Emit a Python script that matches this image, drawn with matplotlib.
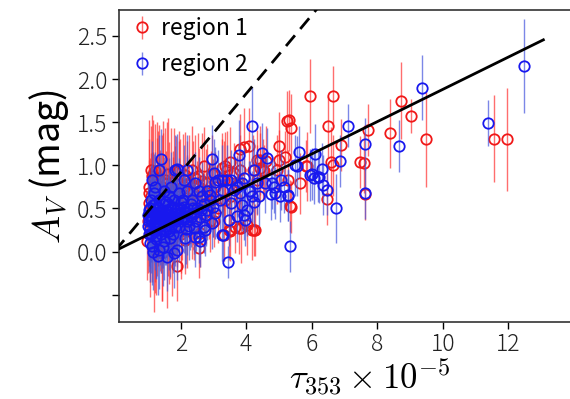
import matplotlib
matplotlib.use("Agg")
import matplotlib.pyplot as plt

plt.rcParams['font.family'] = ['Noto Sans CJK JP', 'DejaVu Sans']
plt.rcParams['mathtext.fontset'] = 'cm'

# region 1 (red): tau353 (x1e-5), Av (mag), error
r1_x = [5.96, 6.65, 5.32, 5.38, 6.51, 6.90, 7.71, 8.72, 9.03, 8.40, 9.49, 11.56, 11.97,
        7.48, 7.60, 6.59, 6.65, 5.85, 5.65, 5.19, 6.46, 7.63, 5.37, 4.99, 4.99, 4.07,
        3.94, 3.80, 3.49, 3.41, 4.41, 4.51, 4.94, 5.29, 5.83, 3.26, 3.82, 3.72, 4.33,
        5.24, 4.33, 4.43, 4.53, 3.36, 3.62, 3.77,
        1.08, 1.23, 1.53, 1.79, 1.94, 2.35, 2.70, 2.14, 2.20, 3.26, 3.31, 1.02, 1.08,
        1.02, 1.43, 1.63, 1.84, 2.55, 2.91, 3.06,
        0.98, 1.23, 1.43, 1.89, 2.55, 3.01, 1.63, 2.14, 3.49, 3.67, 3.84, 4.02, 4.23,
        5.34, 4.18, 4.28, 3.46, 3.77, 3.31,
        1.10, 1.30, 1.50, 1.70, 1.90, 2.05, 2.30, 2.50, 2.70, 2.85, 3.00, 1.20, 1.40,
        1.60, 1.80, 2.00, 2.20, 1.15, 1.35, 1.55, 1.75, 2.40, 2.60, 2.90, 3.15, 3.35,
        3.55, 1.00, 1.05, 1.25, 2.45, 2.80, 1.95, 1.30, 4.20, 4.60, 1.12, 1.38, 1.66,
        1.03, 1.14, 1.27, 1.33, 1.47, 1.58, 1.69, 1.76, 1.86, 1.98, 2.08, 2.26, 2.38,
        2.52, 2.64, 2.78, 2.96, 1.06, 1.18, 1.42, 1.57, 1.72, 1.88, 2.02, 2.18, 2.33,
        1.12, 1.28, 1.45, 1.62]
r1_y = [1.80, 1.80, 1.52, 1.43, 1.45, 1.24, 1.41, 1.75, 1.57, 1.37, 1.30, 1.31, 1.30,
        1.04, 1.03, 1.04, 1.00, 0.99, 0.79, 1.10, 0.61, 0.67, 0.52, 1.22, 1.06, 1.22,
        1.21, 1.19, 1.04, 0.95, 1.06, 0.95, 0.95, 0.83, 0.99, 0.85, 0.95, 0.77, 0.83,
        1.51, 1.06, 0.97, 0.93, 0.99, 0.91, 0.79,
        0.95, 0.93, 0.83, 0.93, 0.95, 0.95, 0.99, 0.89, 0.83, 0.97, 0.83, 0.75, 0.64,
        0.56, 0.75, 0.72, 0.72, 0.75, 0.72, 0.75,
        0.12, 0.02, -0.02, -0.17, 0.04, 0.35, 0.12, 0.14, 0.24, 0.29, 0.27, 0.31, 0.25,
        0.53, 0.25, 0.25, 0.25, 0.27, 0.19,
        0.45, 0.38, 0.50, 0.42, 0.55, 0.35, 0.50, 0.60, 0.45, 0.55, 0.62, 0.25, 0.30,
        0.22, 0.30, 0.20, 0.62, 0.60, 0.65, 0.62, 0.60, 0.30, 0.22, 0.35, 0.50, 0.60,
        0.65, 0.35, 0.20, 0.10, 0.85, 0.80, 0.78, 0.85, 0.95, 1.05, 0.40, 0.48, 0.33,
        0.68, 0.82, 0.52, 0.72, 0.66, 0.80, 0.68, 0.52, 0.64, 0.70, 0.76, 0.80, 0.68,
        0.88, 0.82, 0.64, 0.90, 0.28, 0.15, 0.18, 0.05, 0.14, 0.42, 0.28, 0.36, 0.42,
        0.88, 0.70, 0.62, 0.90]
r1_err = [0.43, 0.35, 0.35, 0.40, 0.35, 0.30, 0.30, 0.45, 0.20, 0.40, 0.55, 0.50, 0.60,
          0.30, 0.35, 0.40, 0.35, 0.40, 0.35, 0.30, 0.30, 0.30, 0.30, 0.40, 0.35, 0.45,
          0.45, 0.40, 0.40, 0.45, 0.40, 0.35, 0.40, 0.35, 0.30, 0.45, 0.40, 0.35, 0.40,
          0.35, 0.35, 0.40, 0.30, 0.40, 0.35, 0.35,
          0.50, 0.55, 0.60, 0.50, 0.45, 0.50, 0.45, 0.50, 0.45, 0.40, 0.45, 0.55, 0.50,
          0.50, 0.60, 0.55, 0.50, 0.45, 0.45, 0.40,
          0.45, 0.50, 0.55, 0.40, 0.35, 0.30, 0.50, 0.40, 0.35, 0.30, 0.40, 0.35, 0.30,
          0.30, 0.35, 0.30, 0.35, 0.30, 0.30,
          0.50, 0.55, 0.50, 0.50, 0.45, 0.45, 0.40, 0.45, 0.40, 0.40, 0.45, 0.60, 0.55,
          0.50, 0.50, 0.45, 0.50, 0.55, 0.50, 0.55, 0.50, 0.40, 0.40, 0.35, 0.40, 0.40,
          0.35, 0.60, 0.55, 0.60, 0.50, 0.45, 0.50, 0.55, 0.40, 0.40, 0.75, 0.70, 0.65,
          0.85, 0.70, 0.80, 0.75, 0.85, 0.70, 0.75, 0.65, 0.70, 0.60, 0.60, 0.55, 0.60,
          0.50, 0.55, 0.55, 0.45, 0.80, 0.85, 0.75, 0.70, 0.65, 0.60, 0.60, 0.55, 0.50,
          0.70, 0.80, 0.75, 0.65]

# region 2 (blue)
r2_x = [12.48, 11.37, 9.38, 8.65, 7.10, 7.63, 6.85, 6.09, 5.60, 5.50, 6.31, 6.02, 6.19,
        6.34, 7.63, 6.75, 5.34, 5.14, 5.29, 4.18, 4.48, 4.63, 3.77, 4.23, 5.55, 5.07,
        4.84, 4.76, 5.04, 5.29, 5.95, 6.06, 6.21, 6.46, 3.92, 3.41, 3.26, 4.33, 4.58,
        3.62, 3.82, 4.12, 4.38,
        1.40, 1.33, 1.89, 2.96, 3.01, 2.09, 3.06, 1.13, 1.18, 1.33, 1.63, 1.94, 2.35,
        2.65, 1.83, 2.18, 3.15,
        1.59, 1.79, 1.89, 2.14, 2.45, 2.60, 1.02, 1.13, 1.33, 3.26, 3.44, 2.40, 2.70,
        2.96, 3.06, 3.29, 3.46, 3.72, 3.92, 4.02, 3.87, 3.52, 3.52, 3.72, 3.87, 4.07,
        4.18, 4.23, 3.97, 4.79, 4.89, 2.55, 2.75,
        1.00, 1.00, 1.05, 1.10, 1.10, 1.15, 1.20, 1.20, 1.25, 1.25, 1.30, 1.30, 1.35,
        1.40, 1.40, 1.45, 1.45, 1.50, 1.50, 1.55, 1.55, 1.60, 1.60, 1.65, 1.70, 1.70,
        1.75, 1.80, 1.80, 1.85, 1.90, 1.95, 2.00, 2.00, 2.10, 2.10, 2.20, 2.25, 2.30,
        2.40, 2.50, 2.60, 2.70, 2.80, 2.90, 3.00, 3.20, 3.30, 2.55, 2.80, 1.10, 1.20,
        1.50, 1.70, 2.20, 2.45, 1.05, 1.15, 1.30, 1.45, 1.08, 1.22, 1.36, 1.52, 1.68,
        1.02, 1.07, 1.12, 1.17, 1.22, 1.27, 1.32, 1.37, 1.42, 1.47, 1.52, 1.57, 1.62,
        1.67, 1.72, 1.77, 1.82, 1.87, 1.92, 1.97, 2.04, 2.12, 2.18, 2.28, 2.36, 1.04,
        1.14, 1.24, 1.34, 1.44, 1.54, 1.64, 1.74, 1.84, 1.94, 2.06, 2.16, 2.32, 2.48,
        2.62, 2.76, 2.88]
r2_y = [2.15, 1.49, 1.90, 1.22, 1.46, 1.25, 1.05, 1.13, 1.15, 1.00, 0.96, 0.90, 0.87,
        0.77, 0.68, 0.50, 0.06, 0.75, 0.66, 1.45, 1.14, 1.08, 1.12, 0.95, 0.99, 0.83,
        0.75, 0.67, 0.64, 0.65, 0.89, 0.85, 0.86, 0.72, 0.85, 0.83, 0.83, 0.79, 0.80,
        0.72, 0.68, 0.70, 0.65,
        1.07, 0.95, 0.96, 1.07, 0.91, 0.83, 0.81, 0.83, 0.68, 0.60, 0.64, 0.68, 0.60,
        0.64, 0.95, 0.95, 0.83,
        -0.06, -0.02, 0.02, 0.16, 0.17, 0.12, 0.21, 0.06, 0.02, 0.19, -0.12, 0.27, 0.29,
        0.33, 0.45, 0.19, 0.37, 0.41, 0.43, 0.48, 0.54, 0.56, 0.83, 0.75, 0.79, 0.70,
        0.64, 0.58, 0.37, 0.79, 0.68, 0.17, 0.25,
        0.30, 0.42, 0.50, 0.35, 0.20, 0.45, 0.30, 0.55, 0.40, 0.15, 0.50, 0.28, 0.38,
        0.45, 0.20, 0.55, 0.32, 0.40, 0.12, 0.48, 0.25, 0.35, 0.55, 0.42, 0.30, 0.50,
        0.20, 0.45, 0.60, 0.35, 0.50, 0.28, 0.45, 0.58, 0.38, 0.52, 0.45, 0.30, 0.55,
        0.45, 0.50, 0.40, 0.55, 0.48, 0.60, 0.52, 0.60, 0.70, 0.70, 0.70, 0.60, 0.75,
        0.70, 0.75, 0.70, 0.80, 0.10, 0.00, -0.05, 0.05, 0.38, 0.24, 0.46, 0.30, 0.16,
        0.36, 0.26, 0.40, 0.33, 0.44, 0.36, 0.42, 0.30, 0.48, 0.40, 0.30, 0.38, 0.46,
        0.34, 0.40, 0.52, 0.40, 0.44, 0.38, 0.50, 0.40, 0.46, 0.36, 0.42, 0.50, 0.48,
        0.54, 0.18, 0.46, 0.26, 0.58, 0.24, 0.36, 0.28, 0.42, 0.60, 0.26, 0.40, 0.36,
        0.48, 0.42, 0.66]
r2_err = [0.54, 0.27, 0.38, 0.30, 0.25, 0.30, 0.30, 0.35, 0.30, 0.35, 0.30, 0.30, 0.30,
          0.35, 0.30, 0.40, 0.30, 0.30, 0.30, 0.46, 0.35, 0.35, 0.40, 0.35, 0.35, 0.35,
          0.30, 0.30, 0.30, 0.30, 0.30, 0.30, 0.30, 0.30, 0.35, 0.40, 0.40, 0.35, 0.35,
          0.35, 0.35, 0.35, 0.35,
          0.35, 0.40, 0.40, 0.40, 0.40, 0.40, 0.40, 0.45, 0.45, 0.45, 0.45, 0.40, 0.40,
          0.40, 0.40, 0.40, 0.35,
          0.40, 0.40, 0.35, 0.35, 0.35, 0.30, 0.45, 0.45, 0.45, 0.30, 0.18, 0.30, 0.30,
          0.30, 0.30, 0.30, 0.30, 0.30, 0.30, 0.30, 0.30, 0.30, 0.35, 0.35, 0.35, 0.35,
          0.30, 0.30, 0.30, 0.30, 0.30, 0.30, 0.30,
          0.40, 0.45, 0.35, 0.40, 0.45, 0.40, 0.45, 0.35, 0.40, 0.45, 0.35, 0.40, 0.40,
          0.35, 0.45, 0.35, 0.40, 0.40, 0.45, 0.35, 0.40, 0.40, 0.35, 0.40, 0.40, 0.35,
          0.45, 0.35, 0.35, 0.40, 0.35, 0.40, 0.35, 0.35, 0.40, 0.35, 0.35, 0.40, 0.35,
          0.35, 0.35, 0.35, 0.35, 0.35, 0.35, 0.35, 0.35, 0.35, 0.40, 0.40, 0.40, 0.40,
          0.40, 0.40, 0.40, 0.35, 0.45, 0.45, 0.45, 0.45, 0.50, 0.45, 0.45, 0.45, 0.45,
          0.40, 0.45, 0.40, 0.45, 0.40, 0.45, 0.40, 0.45, 0.40, 0.45, 0.40, 0.45, 0.40,
          0.45, 0.40, 0.40, 0.45, 0.40, 0.40, 0.40, 0.40, 0.40, 0.40, 0.40, 0.35, 0.45,
          0.40, 0.50, 0.40, 0.45, 0.40, 0.45, 0.40, 0.45, 0.40, 0.35, 0.40, 0.35, 0.35,
          0.35, 0.35, 0.35]

# fitted relations Av = a * tau + b
fit_slope, fit_icpt = 0.187, 0.01
ref_slope, ref_icpt = 0.455, 0.01

fig = plt.figure(figsize=(5.7, 3.99), dpi=100)
ax = fig.add_axes([119 / 570, 0.193, 502 / 570, 0.782])

ax.errorbar(r1_x, r1_y, yerr=r1_err, fmt='o', mfc='none', mec='#f01818', ms=7.5, mew=1.3,
            ecolor='#ff3030', elinewidth=1.0, label='region 1', zorder=2)
ax.errorbar(r2_x, r2_y, yerr=r2_err, fmt='o', mfc='none', mec='#1818ee', ms=7.5, mew=1.3,
            ecolor='#4455dd', elinewidth=1.0, label='region 2', zorder=3)
for c in ax.collections:
    c.set_alpha(0.7)

xs = [0, 13.07]
ax.plot(xs, [fit_slope * v + fit_icpt for v in xs], color='black', lw=2, zorder=4)
xd = [0, 7]
ax.plot(xd, [ref_slope * v + ref_icpt for v in xd], color='black', lw=2, ls=(0, (5, 3)), zorder=4)

ax.set_xlim(0.116, 15.44)
ax.set_ylim(-0.815, 2.80)
ax.set_xticks([2, 4, 6, 8, 10, 12])
ax.set_yticks([-0.5, 0.0, 0.5, 1.0, 1.5, 2.0, 2.5])
ax.set_yticklabels(['', '0.0', '0.5', '1.0', '1.5', '2.0', '2.5'])
ax.tick_params(labelsize=16.5, length=5, width=1, direction='out')
ax.tick_params(axis='x', pad=2)
for lab in ax.get_xticklabels() + ax.get_yticklabels():
    lab.set_fontweight('light')
    lab.set_color('#222222')
for s in ax.spines.values():
    s.set_linewidth(1.2)
    s.set_color('#333333')

ax.set_xlabel(r'$\tau_{353} \times 10^{-5}$', fontsize=25, labelpad=0)
ax.set_ylabel(r'$A_V$ (mag)', fontsize=27, labelpad=4)

ax.legend(loc='upper left', frameon=False, fontsize=16.5, handlelength=0.8,
          handletextpad=0.45, labelspacing=0.55, borderaxespad=0.2,
          bbox_to_anchor=(0.0, 1.02))

fig.savefig('out.png', dpi=100)
